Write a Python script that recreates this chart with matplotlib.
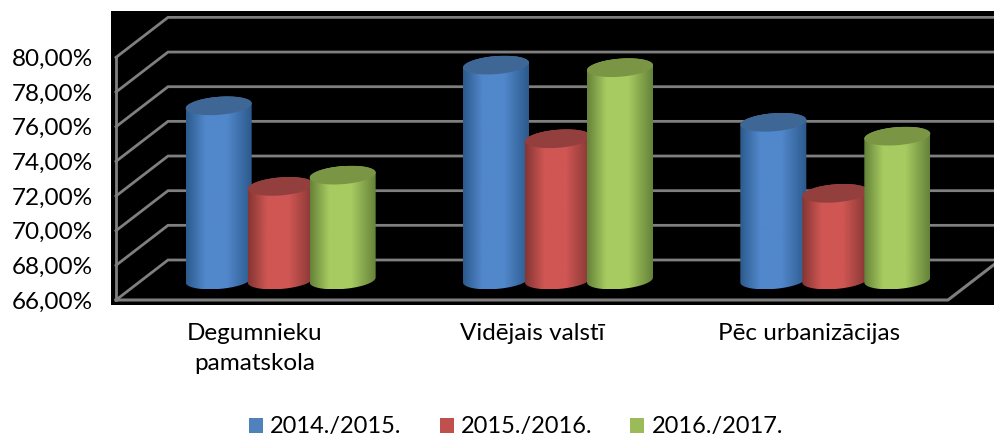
import numpy as np
import matplotlib
matplotlib.use("Agg")
from matplotlib import pyplot as plt
from matplotlib.patches import Patch, Polygon
from matplotlib.colors import LinearSegmentedColormap

categories = ["Degumnieku\npamatskola", "Vidējais valstī", "Pēc urbanizācijas"]
series_names = ["2014./2015.", "2015./2016.", "2016./2017."]
values_2014 = [76.05, 78.4, 75.1]
values_2015 = [71.4, 74.15, 71.0]
values_2016 = [72.05, 78.25, 74.3]
y_ticks = [66, 68, 70, 72, 74, 76, 78, 80]
y_labels = ["66,00%", "68,00%", "70,00%", "72,00%", "74,00%", "76,00%", "78,00%", "80,00%"]

legend_colors = ["#4f81bd", "#c0504d", "#9bbb59"]
edge_colors = ["#2c5a8c", "#853634", "#66833a"]
mid_colors = ["#5187cb", "#cf5653", "#a8cb61"]
top_colors = ["#3f6796", "#933f3d", "#7a9543"]

plt.rcParams["font.family"] = ["Lato", "DejaVu Sans"]

# one x unit is one category, one y unit is one percentage point
x_px = 277.33
y_px = 17.33
depth_x = 52 / x_px
depth_y = 40 / y_px
bar_a = 33 / x_px
bar_b = 9 / y_px
bar_tilt = 2.5 / y_px
bar_step = 62 / x_px
grey = "#7f7f7f"

fig = plt.figure(figsize=(9.95, 4.38), dpi=100)
ax = fig.add_axes([111 / 995, 1 - 305 / 438, 884 / 995, 294 / 438], facecolor="black")
xlim = (-5 / x_px, 879 / x_px)
ylim = (66 - 5 / y_px, 66 + 289 / y_px)


def ellipse(cx, cy, t):
    return cx + bar_a * np.cos(t), cy + bar_b * np.sin(t) + bar_tilt * np.cos(t)


def cylinder(cx, value, i):
    # bars stand halfway into the floor
    base = 66 + depth_y / 2
    top = value + depth_y / 2
    xb, yb = ellipse(cx, base, np.linspace(np.pi, 2 * np.pi, 50))
    xt, yt = ellipse(cx, top, np.linspace(0, np.pi, 50))
    body = Polygon(np.column_stack([np.r_[xb, xt], np.r_[yb, yt]]), closed=True,
                   facecolor="none", edgecolor="none", zorder=3 + i)
    ax.add_patch(body)
    cmap = LinearSegmentedColormap.from_list("bar", [edge_colors[i], mid_colors[i], mid_colors[i], edge_colors[i]])
    grad = np.interp(np.linspace(0, 1, 128), [0, 0.35, 0.55, 1], [0, 0.4, 0.6, 1]).reshape(1, -1)
    im = ax.imshow(grad, extent=(cx - bar_a, cx + bar_a, base - bar_b, top + bar_b),
                   cmap=cmap, aspect="auto", zorder=3 + i, interpolation="bilinear")
    im.set_clip_path(body)
    xe, ye = ellipse(cx, top, np.linspace(0, 2 * np.pi, 100))
    ax.fill(xe, ye, color=top_colors[i], lw=0, zorder=3 + i)


# walls and floor
for tick in y_ticks:
    ax.plot([0, depth_x, xlim[1]], [tick, tick + depth_y, tick + depth_y], color=grey, lw=2.0,
            solid_joinstyle="miter", zorder=1)
ax.plot([0, 0], [y_ticks[0], y_ticks[-1]], color=grey, lw=2.0, zorder=2)
ax.plot([0, 3, 3 + depth_x], [66, 66, 66 + depth_y], color=grey, lw=2.2, zorder=2)

all_values = [values_2014, values_2015, values_2016]
for c in range(len(categories)):
    for i, vals in enumerate(all_values):
        cx = c + 0.5 + depth_x / 2 + (i - 1) * bar_step
        cylinder(cx, vals[c], i)

ax.set_xlim(xlim)
ax.set_ylim(ylim)
ax.set_xticks([0.5, 1.5, 2.5])
ax.set_xticklabels(categories, fontsize=17.5, color="black", linespacing=1.5, va="top")
ax.set_yticks(y_ticks)
ax.set_yticklabels(y_labels, fontsize=17.5, color="black")
ax.tick_params(axis="both", length=0)
ax.tick_params(axis="y", pad=13)
ax.tick_params(axis="x", pad=13)
for spine in ax.spines.values():
    spine.set_visible(False)

handles = [Patch(facecolor=c, edgecolor="none", label=n) for c, n in zip(legend_colors, series_names)]
fig.legend(handles=handles, loc="center", bbox_to_anchor=(516 / 995, 1 - 427 / 438), ncol=3, frameon=False,
           fontsize=17, handlelength=0.6, handleheight=0.6, handletextpad=0.3, columnspacing=1.6,
           borderpad=0)

fig.savefig("out.png", dpi=100, facecolor="white")
